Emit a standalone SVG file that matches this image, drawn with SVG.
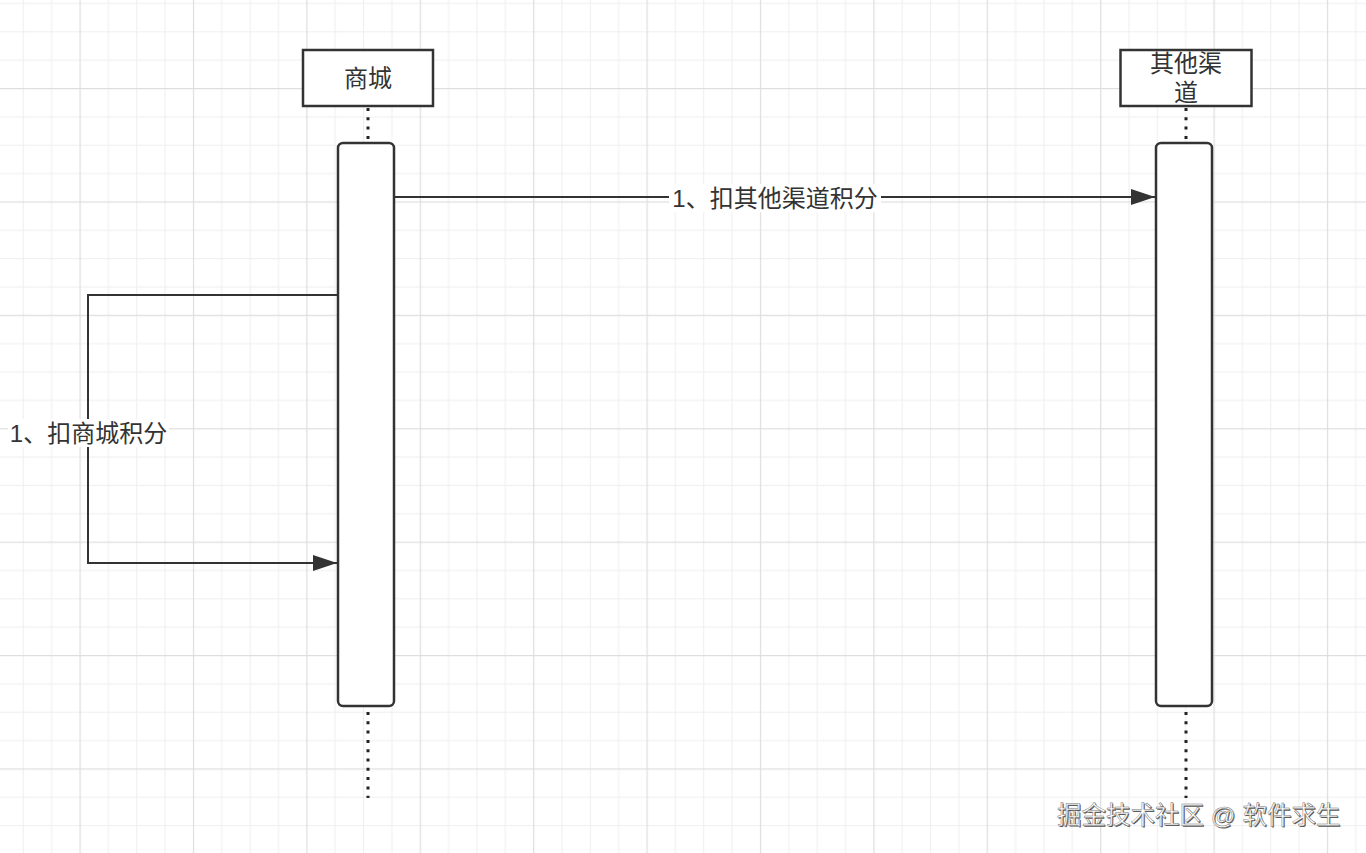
<svg xmlns="http://www.w3.org/2000/svg" width="1366" height="853" viewBox="0 0 1366 853">
<style>
.box{fill:#ffffff;stroke:#333333;stroke-width:2.5}
.life{stroke:#222222;stroke-width:3;stroke-dasharray:3 6.3;fill:none}
.conn{stroke:#333333;stroke-width:2;fill:none}
.t{font-family:"Liberation Sans","Noto Sans CJK SC",sans-serif;font-size:24px;fill:#333333;text-anchor:middle;dominant-baseline:central}
.wm{font-family:"Liberation Sans","Noto Sans CJK SC",sans-serif;font-size:24.5px;text-anchor:start;dominant-baseline:central}
</style>
<defs>
<pattern id="grid" patternUnits="userSpaceOnUse" x="79.5" y="88" width="113.4" height="113.4">
<rect x="0" y="0" width="113.4" height="113.4" fill="#ffffff"/>
<rect x="28.35" y="0" width="1" height="113.4" fill="#efefef"/>
<rect x="56.7" y="0" width="1" height="113.4" fill="#efefef"/>
<rect x="85.05" y="0" width="1" height="113.4" fill="#efefef"/>
<rect x="0" y="28.35" width="113.4" height="1" fill="#efefef"/>
<rect x="0" y="56.7" width="113.4" height="1" fill="#efefef"/>
<rect x="0" y="85.05" width="113.4" height="1" fill="#efefef"/>
<rect x="0" y="0" width="1.2" height="113.4" fill="#dedede"/>
<rect x="0" y="0" width="113.4" height="1.2" fill="#dedede"/>
</pattern>
<marker id="arr" markerUnits="userSpaceOnUse" markerWidth="26" markerHeight="18" refX="24" refY="8" orient="auto">
<path d="M0,0 L24,8 L0,16 Z" fill="#333333"/>
</marker>
</defs>
<rect x="0" y="0" width="1366" height="853" fill="url(#grid)"/>

<g id="lifelines">
<line class="life" x1="368" y1="108" x2="368" y2="142"/>
<line class="life" x1="368" y1="712" x2="368" y2="798"/>
<line class="life" x1="1186" y1="108" x2="1186" y2="142"/>
<line class="life" x1="1186" y1="712" x2="1186" y2="798"/>
</g>

<g id="node-shangcheng">
<rect class="box" x="303" y="50" width="130" height="56"/>
<text class="t" x="368" y="78">商城</text>
</g>

<g id="node-qita">
<rect class="box" x="1120.5" y="50" width="131" height="56"/>
<text class="t" x="1186" y="63">其他渠</text>
<text class="t" x="1186" y="92">道</text>
</g>

<g id="act-shangcheng">
<rect class="box" x="338" y="143" width="56" height="563" rx="5"/>
</g>

<g id="act-qita">
<rect class="box" x="1156" y="143" width="56" height="563" rx="5"/>
</g>

<g id="connectors">
<line class="conn" x1="394" y1="197" x2="1155" y2="197" marker-end="url(#arr)"/>
<polyline class="conn" points="338,295 88,295 88,563 337,563" marker-end="url(#arr)"/>
</g>

<g id="labels">
<rect x="669" y="184" width="212" height="28" fill="#ffffff"/>
<text class="t" x="775" y="198">1、扣其他渠道积分</text>
<rect x="8" y="419" width="161" height="28" fill="#ffffff"/>
<text class="t" x="88.5" y="433">1、扣商城积分</text>
</g>

<g id="watermark">
<text class="wm" x="1058" y="816" fill="#555555">掘金技术社区 @ 软件求生</text>
<text class="wm" x="1057" y="815" fill="#ffffff" stroke="#777777" stroke-width="0.5">掘金技术社区 @ 软件求生</text>
</g>
</svg>
